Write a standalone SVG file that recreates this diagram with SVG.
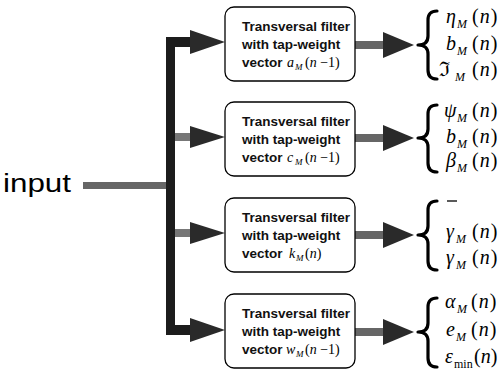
<svg xmlns="http://www.w3.org/2000/svg" width="501" height="372" viewBox="0 0 501 372">
<style>
.box{fill:#fff;stroke:#000;stroke-width:1.3}
.bt{font-family:"Liberation Sans",Arial,sans-serif;font-size:13.5px;font-weight:bold;fill:#111}
.m{font-family:"Liberation Serif","DejaVu Serif",serif;fill:#000}
.mi{font-style:italic}
.dark{fill:#1c1c1c}
.gray{fill:#777}
.head{fill:#2a2a2a}
.brace{fill:none;stroke:#000;stroke-width:3.2;stroke-linecap:round;stroke-linejoin:round}
.lab{font-family:"Liberation Serif","DejaVu Serif",serif;font-size:20px;fill:#000}
.sub{font-size:12px;font-style:italic}
.up{font-style:normal}
</style>
<rect width="501" height="372" fill="#fff"/>

<g id="connectors">
  <rect x="83" y="182" width="85" height="7" fill="#666"/>
  <rect class="dark" x="166" y="37" width="9" height="298"/>
  <rect class="dark" x="166" y="37" width="27" height="10"/>
  <polygon class="head" points="190,30 225,42 190,54"/>
  <rect class="gray" x="175" y="133" width="18" height="8"/>
  <polygon class="head" points="190,126 225,137 190,148"/>
  <rect class="gray" x="175" y="229" width="18" height="8"/>
  <polygon class="head" points="190,222 225,233 190,244"/>
  <rect class="dark" x="166" y="325" width="27" height="10"/>
  <polygon class="head" points="190,318 225,330 190,342"/>
  <rect x="355" y="41" width="31" height="8" fill="#666"/>
  <polygon class="head" points="383,32 414,45 383,58"/>
  <rect x="355" y="134" width="31" height="8" fill="#666"/>
  <polygon class="head" points="383,125 414,138 383,151"/>
  <rect x="355" y="231" width="31" height="8" fill="#666"/>
  <polygon class="head" points="383,222 414,235 383,248"/>
  <rect x="355" y="328" width="31" height="8" fill="#666"/>
  <polygon class="head" points="383,319 414,332 383,345"/>
</g>

<g id="input">
  <text x="3" y="192" font-family="'Liberation Sans',Arial,sans-serif" font-size="25" textLength="68" lengthAdjust="spacingAndGlyphs" fill="#000">input</text>
</g>

<g id="filter-a">
  <rect class="box" x="225" y="7" width="130" height="74" rx="9"/>
  <text class="bt" x="242" y="31">Transversal filter</text>
  <text class="bt" x="242" y="49">with tap-weight</text>
  <text class="bt" x="242" y="67">vector</text>
  <text class="m" y="67" font-size="14"><tspan class="mi" x="287">a</tspan><tspan class="mi" x="295" dy="3" font-size="9">M</tspan><tspan x="305" dy="-3">(</tspan><tspan class="mi">n</tspan><tspan> −1)</tspan></text>
</g>

<g id="filter-c">
  <rect class="box" x="225" y="102" width="130" height="74" rx="9"/>
  <text class="bt" x="242" y="126">Transversal filter</text>
  <text class="bt" x="242" y="144">with tap-weight</text>
  <text class="bt" x="242" y="162">vector</text>
  <text class="m" y="162" font-size="14"><tspan class="mi" x="287">c</tspan><tspan class="mi" x="295" dy="3" font-size="9">M</tspan><tspan x="305" dy="-3">(</tspan><tspan class="mi">n</tspan><tspan> −1)</tspan></text>
</g>

<g id="filter-k">
  <rect class="box" x="225" y="198" width="130" height="74" rx="9"/>
  <text class="bt" x="242" y="222">Transversal filter</text>
  <text class="bt" x="242" y="240">with tap-weight</text>
  <text class="bt" x="242" y="258">vector</text>
  <text class="m" y="258" font-size="14"><tspan class="mi" x="289">k</tspan><tspan class="mi" x="296" dy="3" font-size="9">M</tspan><tspan x="305" dy="-3">(</tspan><tspan class="mi">n</tspan><tspan>)</tspan></text>
</g>

<g id="filter-w">
  <rect class="box" x="225" y="294" width="130" height="74" rx="9"/>
  <text class="bt" x="242" y="318">Transversal filter</text>
  <text class="bt" x="242" y="336">with tap-weight</text>
  <text class="bt" x="242" y="354">vector</text>
  <text class="m" y="354" font-size="14"><tspan class="mi" x="286">w</tspan><tspan class="mi" x="296" dy="3" font-size="9">M</tspan><tspan x="305" dy="-3">(</tspan><tspan class="mi">n</tspan><tspan> −1)</tspan></text>
</g>

<g id="out-a">
  <path class="brace" d="M437,11 Q428,11 428,20 L428,36 Q428,45 418,45 Q428,45 428,54 L428,70 Q428,79 437,79"/>
  <text class="lab" y="23"><tspan class="mi" x="446">η</tspan><tspan class="sub" x="457" dy="5">M</tspan><tspan x="472" dy="-5" letter-spacing="1">(<tspan class="mi">n</tspan>)</tspan></text>
  <text class="lab" y="50"><tspan class="mi" x="446">b</tspan><tspan class="sub" x="457" dy="5">M</tspan><tspan x="472" dy="-5" letter-spacing="1">(<tspan class="mi">n</tspan>)</tspan></text>
  <text class="lab" y="76"><tspan x="439">ℑ</tspan><tspan class="sub" x="455" dy="5">M</tspan><tspan x="472" dy="-5" letter-spacing="1">(<tspan class="mi">n</tspan>)</tspan></text>
</g>

<g id="out-c">
  <path class="brace" d="M437,105 Q428,105 428,114 L428,129 Q428,138 418,138 Q428,138 428,147 L428,163 Q428,172 437,172"/>
  <text class="lab" y="117"><tspan class="mi" x="444">ψ</tspan><tspan class="sub" x="457" dy="5">M</tspan><tspan x="472" dy="-5" letter-spacing="1">(<tspan class="mi">n</tspan>)</tspan></text>
  <text class="lab" y="143"><tspan class="mi" x="446">b</tspan><tspan class="sub" x="457" dy="5">M</tspan><tspan x="472" dy="-5" letter-spacing="1">(<tspan class="mi">n</tspan>)</tspan></text>
  <text class="lab" y="167"><tspan class="mi" x="446">β</tspan><tspan class="sub" x="457" dy="5">M</tspan><tspan x="472" dy="-5" letter-spacing="1">(<tspan class="mi">n</tspan>)</tspan></text>
</g>

<g id="out-k">
  <path class="brace" d="M437,201 Q428,201 428,210 L428,226 Q428,235 418,235 Q428,235 428,244 L428,261 Q428,270 437,270"/>
  <line x1="447" y1="201" x2="457" y2="201" stroke="#000" stroke-width="1.3"/>
  <text class="lab" y="238"><tspan class="mi" x="446">γ</tspan><tspan class="sub" x="456" dy="5">M</tspan><tspan x="472" dy="-5" letter-spacing="1">(<tspan class="mi">n</tspan>)</tspan></text>
  <text class="lab" y="264"><tspan class="mi" x="446">γ</tspan><tspan class="sub" x="456" dy="5">M</tspan><tspan x="472" dy="-5" letter-spacing="1">(<tspan class="mi">n</tspan>)</tspan></text>
</g>

<g id="out-w">
  <path class="brace" d="M437,298 Q428,298 428,307 L428,323 Q428,332 418,332 Q428,332 428,341 L428,358 Q428,367 437,367"/>
  <text class="lab" y="308"><tspan class="mi" x="445">α</tspan><tspan class="sub" x="457" dy="5">M</tspan><tspan x="471" dy="-5" letter-spacing="1">(<tspan class="mi">n</tspan>)</tspan></text>
  <text class="lab" y="336"><tspan class="mi" x="446">e</tspan><tspan class="sub" x="456" dy="5">M</tspan><tspan x="471" dy="-5" letter-spacing="1">(<tspan class="mi">n</tspan>)</tspan></text>
  <text class="lab" y="363"><tspan class="mi" x="445">ε</tspan><tspan class="sub up" x="454" dy="5">min</tspan><tspan x="474" dy="-5">(<tspan class="mi">n</tspan>)</tspan></text>
</g>
</svg>
